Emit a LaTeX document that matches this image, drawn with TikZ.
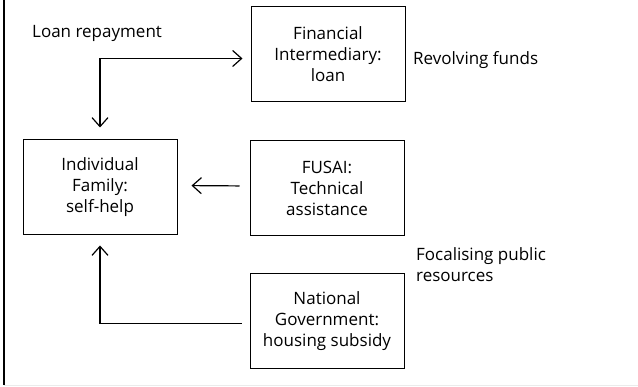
\documentclass[tikz,border=0pt]{standalone}
\usepackage{fontspec}
\setmainfont{Open Sans}
\usetikzlibrary{arrows.meta}

\tikzset{
	actor/.style={draw, line width=1pt, minimum width=154pt, minimum height=95pt,
		align=center, inner sep=2pt, font=\fontsize{17}{21}\selectfont},
	barb/.tip={Straight Barb[length=9pt,width=16pt,line width=1.2pt]},
	flow/.style={line width=1.2pt, -barb},
	twoway/.style={line width=1.2pt, barb-barb},
	remark/.style={anchor=west, align=left, inner sep=0pt, font=\fontsize{17}{21}\selectfont}
}

\begin{document}
\begin{tikzpicture}[x=1pt,y=-1pt]
		\useasboundingbox (0,0) rectangle (638,387);
		\draw[line width=2pt] (4,0) -- (4,385);
		\draw[color=black!8, line width=1pt] (4,386) -- (638,386);

		\node[actor] (lender) at (328,54.5) {Financial\\Intermediary:\\loan};
		\node[actor] (family) at (100,187.5) {Individual\\Family:\\self-help};
		\node[actor] (fusai) at (327,188) {FUSAI:\\Technical\\assistance};
		\node[actor] (state) at (327,321.5) {National\\Government:\\housing subsidy};

		\node[remark] (repay) at (32,33) {Loan repayment};
		\node[remark] (revolve) at (413,60) {Revolving funds};
		\node[remark] (focus) at (416,265) {Focalising public\\resources};

		\draw[twoway, shorten <=12pt, shorten >=8pt]
			(family.north) |- ([yshift=-4]lender.west);
		\draw[flow, shorten <=10pt, shorten >=14pt] ([yshift=2]fusai.west) -- ([yshift=2]family.east);
		\draw[flow, shorten <=8pt, shorten >=10pt] ([yshift=-2]state.west) -| (family.south);
	\end{tikzpicture}
\end{document}
